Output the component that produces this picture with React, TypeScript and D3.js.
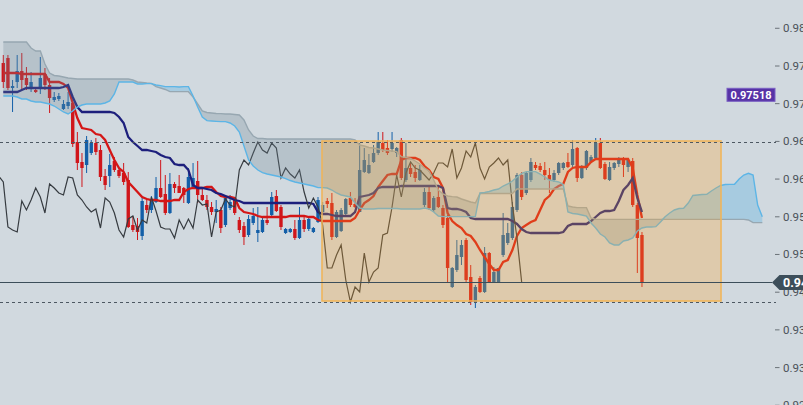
import React from "react";
import * as d3 from "d3";

const W = 803;
const H = 405;

// Candles (price)
const OPEN = [0.97995,0.98070,0.97620,0.97710,0.97875,0.97770,0.97605,0.97590,0.97620,0.97830,0.97665,0.97440,0.97455,0.97305,0.97350,0.97395,0.96810,0.96510,0.96465,0.96645,0.96795,0.96690,0.96300,0.96300,0.96525,0.96390,0.96345,0.96240,0.95565,0.95550,0.95400,0.95865,0.95790,0.95910,0.96120,0.96030,0.95745,0.96180,0.96150,0.96120,0.95895,0.96135,0.96225,0.96015,0.95940,0.95835,0.95760,0.95790,0.95565,0.95820,0.95970,0.95640,0.95550,0.95415,0.95595,0.95445,0.95460,0.95640,0.95715,0.96000,0.95835,0.95445,0.95460,0.95505,0.95370,0.95640,0.95505,0.95460,0.95610,0.95760,0.95925,0.95895,0.95385,0.95475,0.95730,0.95970,0.95880,0.95760,0.96360,0.96345,0.96510,0.96645,0.96795,0.96720,0.96705,0.96645,0.96840,0.96240,0.96420,0.96360,0.96240,0.95865,0.96060,0.95790,0.95985,0.95820,0.95670,0.94635,0.94890,0.95085,0.95340,0.94785,0.94410,0.94770,0.94560,0.95145,0.94710,0.94710,0.95115,0.95295,0.95370,0.95790,0.96315,0.96045,0.96240,0.96465,0.96450,0.96390,0.96315,0.96240,0.96345,0.96420,0.96510,0.96465,0.96720,0.96270,0.96420,0.96510,0.96570,0.96795,0.96480,0.96240,0.96420,0.96480,0.96570,0.96435,0.96525,0.95865,0.95415];
const HIGH = [0.98115,0.98115,0.97740,0.98115,0.98145,0.97935,0.97860,0.97605,0.98085,0.97920,0.97770,0.97560,0.97545,0.97440,0.97560,0.97410,0.96960,0.96645,0.96900,0.96840,0.96870,0.96765,0.96405,0.96630,0.96585,0.96420,0.96495,0.96360,0.95700,0.95670,0.95970,0.95970,0.96000,0.96285,0.96540,0.96315,0.96345,0.96210,0.96315,0.96135,0.96420,0.96495,0.96525,0.96120,0.96015,0.95910,0.95940,0.95835,0.95985,0.96015,0.95985,0.95685,0.95610,0.95715,0.95820,0.95835,0.95685,0.95835,0.96060,0.96090,0.95865,0.95520,0.95520,0.95640,0.95835,0.95685,0.95685,0.95535,0.95985,0.95910,0.95970,0.96045,0.95790,0.95820,0.95970,0.96060,0.95970,0.96795,0.96720,0.96630,0.96765,0.96960,0.96960,0.96840,0.96960,0.96735,0.96870,0.96795,0.96495,0.96465,0.96465,0.96120,0.96135,0.96000,0.96135,0.95865,0.95715,0.94935,0.95340,0.95340,0.95370,0.94965,0.94665,0.94800,0.95235,0.95160,0.94935,0.94920,0.95745,0.95595,0.95910,0.96345,0.96360,0.96360,0.96570,0.96510,0.96495,0.96510,0.96420,0.96390,0.96510,0.96510,0.96645,0.96840,0.96735,0.96465,0.96690,0.96615,0.96870,0.96870,0.96510,0.96510,0.96510,0.96585,0.96585,0.96570,0.96570,0.95895,0.95460];
const LOW = [0.97620,0.97590,0.97260,0.97620,0.97590,0.97590,0.97560,0.97545,0.97530,0.97590,0.97245,0.97410,0.97425,0.97290,0.97305,0.96735,0.96390,0.96135,0.96345,0.96615,0.96615,0.96225,0.96090,0.96135,0.96360,0.96270,0.96165,0.95520,0.95460,0.95340,0.95340,0.95745,0.95745,0.95895,0.95970,0.95715,0.95730,0.96045,0.96045,0.95895,0.95880,0.96120,0.95895,0.95925,0.95790,0.95715,0.95595,0.95445,0.95535,0.95790,0.95715,0.95445,0.95265,0.95385,0.95565,0.95310,0.95445,0.95565,0.95700,0.95760,0.95490,0.95430,0.95445,0.95340,0.95355,0.95460,0.95475,0.95445,0.95595,0.95730,0.95820,0.95340,0.95370,0.95460,0.95700,0.95835,0.95820,0.95760,0.96345,0.96330,0.96495,0.96615,0.96660,0.96615,0.96660,0.96585,0.96240,0.96210,0.96285,0.96210,0.96225,0.95835,0.95790,0.95760,0.95820,0.95520,0.94710,0.94620,0.94860,0.94965,0.94710,0.94365,0.94320,0.94545,0.94545,0.94695,0.94695,0.94695,0.95085,0.95265,0.95340,0.95760,0.95940,0.96015,0.96210,0.96390,0.96360,0.96240,0.96045,0.96210,0.96315,0.96390,0.96420,0.96435,0.96210,0.96255,0.96390,0.96495,0.96540,0.96405,0.96240,0.96225,0.96390,0.96435,0.96285,0.96360,0.95835,0.94845,0.94635];
const CLOSE = [0.97710,0.97620,0.97650,0.97875,0.97740,0.97665,0.97710,0.97560,0.97770,0.97665,0.97470,0.97485,0.97500,0.97380,0.97410,0.96780,0.96495,0.96420,0.96840,0.96795,0.96660,0.96285,0.96165,0.96465,0.96390,0.96300,0.96210,0.95535,0.95490,0.95460,0.95925,0.95790,0.95940,0.96120,0.95985,0.95745,0.96180,0.96120,0.96045,0.96015,0.96285,0.96270,0.96015,0.95940,0.95835,0.95760,0.95805,0.95520,0.95970,0.95910,0.95745,0.95490,0.95385,0.95655,0.95700,0.95490,0.95640,0.95595,0.95985,0.95775,0.95535,0.95505,0.95505,0.95370,0.95640,0.95505,0.95655,0.95520,0.95940,0.95865,0.95880,0.95385,0.95760,0.95790,0.95955,0.95865,0.95835,0.96390,0.96540,0.96465,0.96645,0.96810,0.96690,0.96645,0.96795,0.96720,0.96270,0.96420,0.96330,0.96270,0.96390,0.96060,0.95820,0.95970,0.95835,0.95565,0.94920,0.94920,0.95115,0.95265,0.94740,0.94410,0.94635,0.94560,0.95145,0.94710,0.94860,0.94920,0.95415,0.95445,0.95835,0.96315,0.95985,0.96345,0.96510,0.96420,0.96390,0.96315,0.96240,0.96345,0.96495,0.96495,0.96435,0.96705,0.96270,0.96420,0.96675,0.96585,0.96795,0.96420,0.96255,0.96435,0.96495,0.96570,0.96465,0.96540,0.95865,0.95370,0.94710];

// Ichimoku lines (price)
const TENKAN = [0.97845,0.97845,0.97845,0.97845,0.97830,0.97830,0.97830,0.97830,0.97830,0.97830,0.97710,0.97710,0.97710,0.97680,0.97620,0.97395,0.97170,0.97020,0.97005,0.96990,0.96930,0.96915,0.96840,0.96690,0.96540,0.96420,0.96360,0.96210,0.96135,0.96060,0.95985,0.95955,0.95940,0.95940,0.95925,0.95925,0.95925,0.95940,0.95940,0.96060,0.96105,0.96120,0.96120,0.96120,0.96135,0.96135,0.96060,0.96000,0.95985,0.95985,0.95970,0.95820,0.95760,0.95745,0.95730,0.95700,0.95685,0.95685,0.95685,0.95685,0.95685,0.95685,0.95700,0.95700,0.95700,0.95700,0.95685,0.95685,0.95640,0.95625,0.95625,0.95625,0.95625,0.95625,0.95625,0.95625,0.95670,0.95790,0.95895,0.95940,0.96000,0.96135,0.96225,0.96315,0.96330,0.96330,0.96540,0.96570,0.96570,0.96570,0.96540,0.96450,0.96390,0.96285,0.96255,0.96120,0.95745,0.95625,0.95565,0.95520,0.95430,0.95400,0.95310,0.95190,0.95085,0.94980,0.94890,0.94890,0.95010,0.95040,0.95190,0.95400,0.95520,0.95565,0.95610,0.95640,0.95790,0.95940,0.96000,0.96105,0.96150,0.96180,0.96360,0.96420,0.96435,0.96435,0.96435,0.96510,0.96555,0.96555,0.96555,0.96555,0.96555,0.96555,0.96555,0.96555,0.96420,0.96015,0.95670];
const KIJUN = [0.97560,0.97560,0.97560,0.97560,0.97590,0.97620,0.97620,0.97620,0.97620,0.97620,0.97620,0.97620,0.97620,0.97635,0.97665,0.97485,0.97335,0.97260,0.97260,0.97260,0.97260,0.97260,0.97260,0.97260,0.97245,0.97185,0.97095,0.96885,0.96810,0.96750,0.96690,0.96690,0.96675,0.96660,0.96615,0.96585,0.96570,0.96480,0.96465,0.96465,0.96390,0.96165,0.96120,0.96120,0.96105,0.96090,0.96045,0.96030,0.96000,0.95970,0.95940,0.95925,0.95895,0.95895,0.95895,0.95895,0.95895,0.95895,0.95895,0.95895,0.95895,0.95895,0.95895,0.95895,0.95895,0.95895,0.95895,0.95880,0.95760,0.95730,0.95730,0.95715,0.95700,0.95700,0.95700,0.95700,0.95760,0.95985,0.96000,0.96015,0.96045,0.96120,0.96135,0.96135,0.96135,0.96135,0.96150,0.96150,0.96150,0.96150,0.96150,0.96150,0.96150,0.96150,0.96150,0.96120,0.95820,0.95805,0.95805,0.95790,0.95760,0.95670,0.95655,0.95655,0.95655,0.95655,0.95655,0.95655,0.95655,0.95655,0.95625,0.95580,0.95505,0.95460,0.95445,0.95445,0.95445,0.95445,0.95445,0.95445,0.95445,0.95460,0.95550,0.95580,0.95580,0.95580,0.95580,0.95625,0.95685,0.95745,0.95775,0.95775,0.95790,0.95925,0.96090,0.96165,0.96270,0.95970,0.95760];

// Senkou spans, indexed by the bar they are plotted at (already shifted 26 bars ahead) - 165 values each
const SPAN_A = [
  0.97500,0.97500,0.97500,0.97485,0.97455,0.97455,0.97425,0.97410,0.97410,0.97395,
  0.97380,0.97350,0.97305,0.97260,0.97230,0.97275,0.97335,0.97365,0.97380,0.97380,
  0.97380,0.97380,0.97395,0.97425,0.97530,0.97710,0.97710,0.97710,0.97710,0.97680,
  0.97680,0.97685,0.97685,0.97665,0.97655,0.97640,0.97640,0.97640,0.97635,0.97640,
  0.97640,0.97500,0.97335,0.97185,0.97130,0.97125,0.97120,0.97115,0.97115,0.97095,
  0.97050,0.96960,0.96750,0.96540,0.96450,0.96390,0.96350,0.96330,0.96315,0.96300,
  0.96285,0.96262,0.96232,0.96210,0.96195,0.96180,0.96165,0.96150,0.96125,0.96125,
  0.96120,0.96090,0.96045,0.96015,0.96000,0.95985,0.95895,0.95820,0.95805,0.95805,
  0.95805,0.95812,0.95812,0.95812,0.95812,0.95812,0.95805,0.95805,0.95805,0.95805,
  0.95805,0.95820,0.95805,0.95760,0.95700,0.95690,0.95690,0.95690,0.95690,0.95690,
  0.95690,0.95690,0.95690,0.96045,0.96052,0.96068,0.96090,0.96105,0.96150,0.96180,
  0.96225,0.96285,0.96338,0.96365,0.96365,0.96365,0.96330,0.96285,0.96240,0.96225,
  0.96210,0.96172,0.95760,0.95738,0.95730,0.95715,0.95700,0.95595,0.95520,0.95430,
  0.95385,0.95295,0.95265,0.95265,0.95325,0.95340,0.95370,0.95475,0.95520,0.95535,
  0.95535,0.95540,0.95610,0.95690,0.95745,0.95790,0.95812,0.95815,0.95895,0.96008,
  0.96015,0.96022,0.96025,0.96075,0.96120,0.96158,0.96172,0.96175,0.96175,0.96255,
  0.96315,0.96340,0.96315,0.95865,0.95690,
];
const SPAN_B = [
  0.98310,0.98310,0.98310,0.98310,0.98310,0.98310,0.98220,0.98175,0.98175,0.97980,
  0.97845,0.97808,0.97800,0.97785,0.97770,0.97762,0.97755,0.97755,0.97755,0.97755,
  0.97755,0.97755,0.97755,0.97755,0.97755,0.97755,0.97755,0.97755,0.97740,0.97710,
  0.97702,0.97695,0.97690,0.97640,0.97620,0.97598,0.97565,0.97565,0.97565,0.97565,
  0.97565,0.97485,0.97380,0.97275,0.97252,0.97245,0.97238,0.97235,0.97230,0.97230,
  0.97222,0.97215,0.97140,0.96990,0.96900,0.96862,0.96862,0.96855,0.96855,0.96855,
  0.96855,0.96855,0.96855,0.96855,0.96855,0.96855,0.96855,0.96855,0.96855,0.96855,
  0.96855,0.96855,0.96855,0.96855,0.96855,0.96855,0.96840,0.96765,0.96750,0.96728,
  0.96720,0.96705,0.96690,0.96682,0.96675,0.96665,0.96590,0.96578,0.96565,0.96525,
  0.96480,0.96420,0.96375,0.96240,0.96090,0.96030,0.96000,0.95990,0.95985,0.95955,
  0.95932,0.95910,0.95895,0.96038,0.96038,0.96038,0.96038,0.96038,0.96038,0.96038,
  0.96038,0.96105,0.96105,0.96105,0.96105,0.96105,0.96105,0.96105,0.96105,0.96105,
  0.96105,0.96105,0.95850,0.95835,0.95825,0.95825,0.95825,0.95670,0.95650,0.95650,
  0.95650,0.95650,0.95650,0.95650,0.95650,0.95650,0.95650,0.95650,0.95650,0.95650,
  0.95650,0.95650,0.95650,0.95650,0.95650,0.95650,0.95650,0.95650,0.95650,0.95650,
  0.95650,0.95650,0.95650,0.95650,0.95650,0.95650,0.95650,0.95650,0.95650,0.95650,
  0.95650,0.95640,0.95600,0.95600,0.95600,
];
const DISPLACEMENT = 26;

const Y_TICKS = [0.98516,0.97950,0.97385,0.96819,0.96254,0.95688,0.95123,0.94557,0.93992,0.93426,0.92861];
const LAST_PRICE = 0.94710;
const ALERT_PRICE = 0.97518;
const ALERT_FROM_BAR = 129;
const ZONE_BARS = [68.86, 155.08];
const ZONE_PRICES = [0.96825, 0.94425];
const DASHED_LEVELS = [0.96806, 0.94406];

const BG = "#d1d9df";
const UP = "#135fa8";
const DOWN = "#d0161b";

export default function App() {
  const x = d3.scaleLinear().domain([0, 164]).range([3.3, 762.3]);
  const y = d3.scaleLinear().domain([0.9894, 0.92865]).range([0, 405]);
  const fmt = d3.format(".5f");

  const line = d3
    .line<number>()
    .x((_, i) => x(i))
    .y((d) => y(d));

  const chikou = d3
    .line<number>()
    .x((_, i) => x(i - DISPLACEMENT))
    .y((d) => y(d));

  const n = Math.min(SPAN_A.length, SPAN_B.length);
  const cloud = d3.range(n).map((j) => ({ j, a: SPAN_A[j], b: SPAN_B[j] }));
  const bullCloud = d3
    .area<{ j: number; a: number; b: number }>()
    .x((d) => x(d.j))
    .y0((d) => y(d.b))
    .y1((d) => y(Math.max(d.a, d.b)));
  const bearCloud = d3
    .area<{ j: number; a: number; b: number }>()
    .x((d) => x(d.j))
    .y0((d) => y(d.b))
    .y1((d) => y(Math.min(d.a, d.b)));

  const bodyW = 3.4;
  const zx0 = x(ZONE_BARS[0]);
  const zx1 = x(ZONE_BARS[1]);
  const zy0 = y(ZONE_PRICES[0]);
  const zy1 = y(ZONE_PRICES[1]);
  const lastY = Math.round(y(LAST_PRICE)) + 0.5;
  const alertY = y(ALERT_PRICE);
  const alertX0 = x(ALERT_FROM_BAR);

  return (
    <svg
      width={W}
      height={H}
      style={{ position: "absolute", left: 0, top: 0, display: "block" }}
      fontFamily="Roboto, sans-serif"
    >
      <defs>
        <linearGradient id="alertGrad" x1="0" x2="1" y1="0" y2="0">
          <stop offset="0" stopColor="#9a8ad0" />
          <stop offset="1" stopColor="#5232a0" />
        </linearGradient>
      </defs>
      <rect x={0} y={0} width={W} height={H} fill={BG} />

      {/* candles */}
      <g>
        {OPEN.map((o, i) => {
          const c = CLOSE[i];
          const col = c >= o ? UP : DOWN;
          const top = y(Math.max(o, c));
          const bot = y(Math.min(o, c));
          return (
            <g key={i}>
              <line
                x1={x(i)}
                x2={x(i)}
                y1={y(HIGH[i])}
                y2={y(LOW[i])}
                stroke={col}
                strokeWidth={1}
              />
              <rect
                x={x(i) - bodyW / 2}
                y={top}
                width={bodyW}
                height={Math.max(1, bot - top)}
                fill={col}
              />
            </g>
          );
        })}
      </g>

      {/* tenkan / kijun */}
      <path d={line(TENKAN) || ""} fill="none" stroke="#d41616" strokeWidth={2.3} />
      <path d={line(KIJUN) || ""} fill="none" stroke="#1d1f7c" strokeWidth={2.3} />
      {/* chikou */}
      <path d={chikou(CLOSE) || ""} fill="none" stroke="#363b40" strokeWidth={1.2} />

      {/* cloud */}
      <path d={bearCloud(cloud) || ""} fill="rgba(110,132,148,0.27)" stroke="none" />
      <path d={bullCloud(cloud) || ""} fill="rgba(95,178,226,0.36)" stroke="none" />
      <path d={line(SPAN_B) || ""} fill="none" stroke="#97a7b1" strokeWidth={1.4} />
      <path d={line(SPAN_A) || ""} fill="none" stroke="#5cb5e6" strokeWidth={1.4} />

      {/* zone */}
      <rect
        x={zx0}
        y={zy0}
        width={zx1 - zx0}
        height={zy1 - zy0}
        fill="rgba(255,165,40,0.28)"
        stroke="#f2b455"
        strokeWidth={1.5}
      />

      {/* dashed levels */}
      {DASHED_LEVELS.map((p, k) => (
        <line
          key={k}
          x1={0}
          x2={776}
          y1={Math.round(y(p)) + 0.5}
          y2={Math.round(y(p)) + 0.5}
          stroke="#4d5862"
          strokeWidth={1}
          strokeDasharray="3,3"
        />
      ))}

      {/* last price line */}
      <line x1={0} x2={772} y1={lastY} y2={lastY} stroke="#3c4e5a" strokeWidth={1} />

      {/* y axis */}
      {Y_TICKS.map((t, k) => (
        <g key={k}>
          <line x1={775} x2={779.5} y1={y(t)} y2={y(t)} stroke="#6b7278" strokeWidth={1} />
          <text x={783} y={y(t)} dy="0.35em" fontSize={11.5} fill="#4a5259">
            {fmt(t)}
          </text>
        </g>
      ))}

      {/* alert ray */}
      <line
        x1={alertX0}
        x2={727}
        y1={alertY}
        y2={alertY}
        stroke="url(#alertGrad)"
        strokeWidth={1.3}
      />
      <rect
        x={727}
        y={alertY - 6.5}
        width={48}
        height={13}
        fill="#5733a6"
        stroke="#7a5fc4"
        strokeWidth={1}
      />
      <text
        x={751}
        y={alertY}
        dy="0.36em"
        fontSize={11}
        fontWeight="bold"
        fill="#ffffff"
        textAnchor="middle"
      >
        {fmt(ALERT_PRICE)}
      </text>

      {/* last price badge */}
      <path
        d={`M772,${lastY} L779.5,${lastY - 7.5} L803,${lastY - 7.5} L803,${lastY + 7.5} L779.5,${lastY + 7.5} Z`}
        fill="#3c4e5a"
      />
      <text x={783} y={lastY} dy="0.36em" fontSize={12.5} fontWeight="bold" fill="#ffffff">
        {fmt(LAST_PRICE)}
      </text>
    </svg>
  );
}
